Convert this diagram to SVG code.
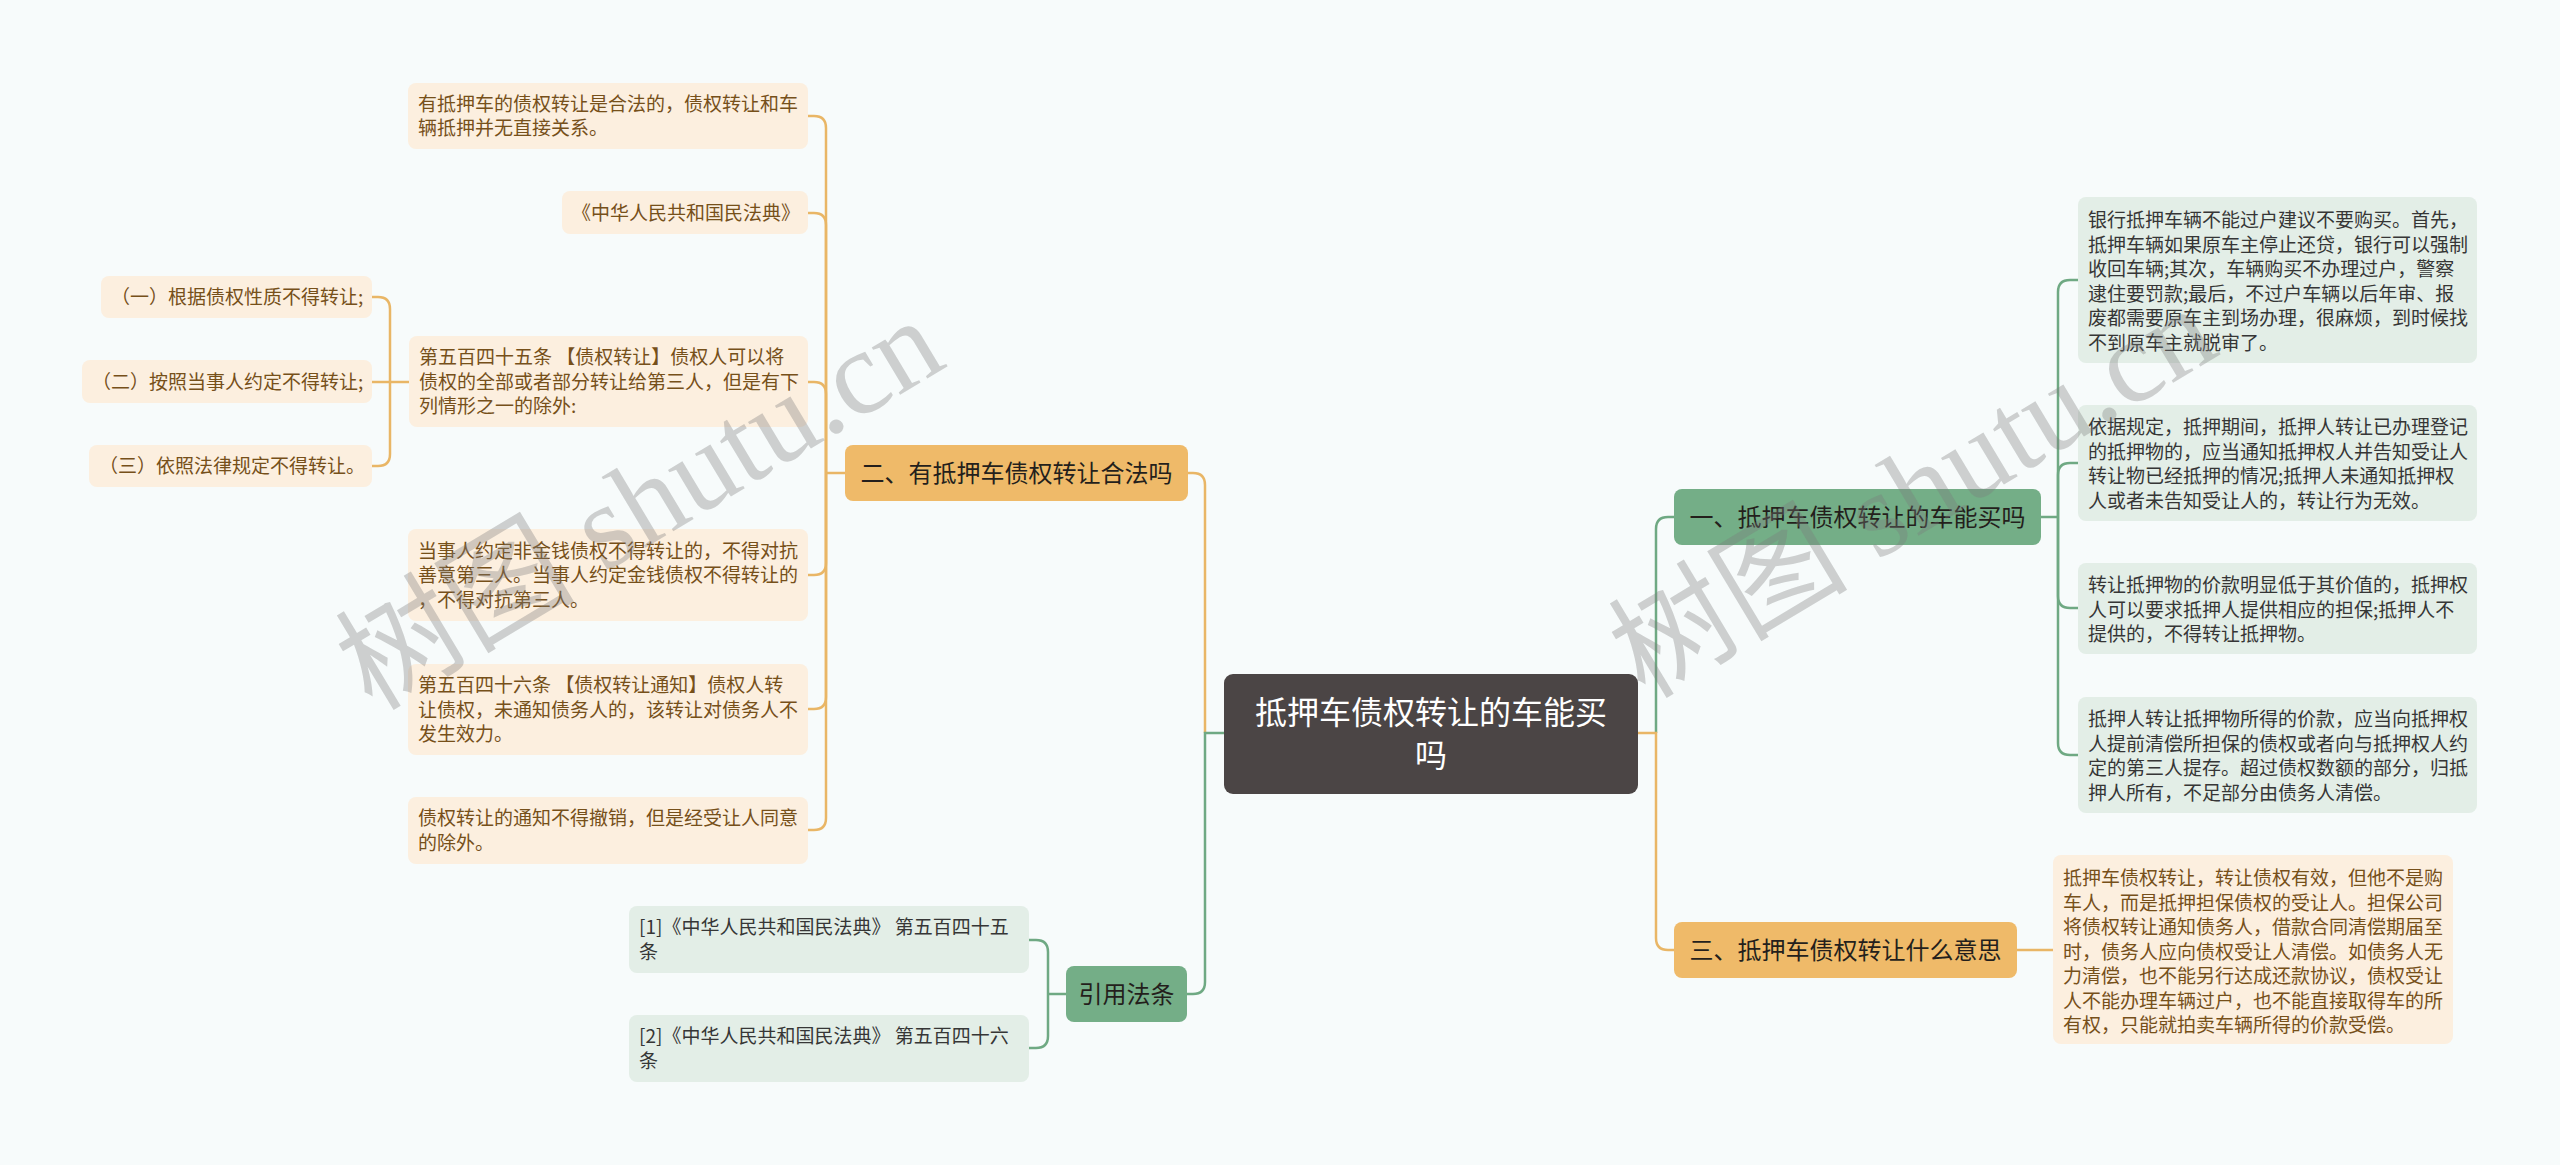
<svg xmlns="http://www.w3.org/2000/svg" width="2560" height="1165" viewBox="0 0 2560 1165">
<style>
text{font-family:"Noto Sans CJK SC","Noto Sans",sans-serif}
.lo{fill:#fcefdf}
.lg{fill:#e3eee7}
.to{font-size:19px;fill:#76501a}
.tg{font-size:19px;fill:#363636}
.bo{fill:#efba69}
.bg{fill:#74ae87}
.tb{font-size:24px;fill:#241f1c;text-anchor:middle}
.co{fill:none;stroke:#e9b666;stroke-width:2.5}
.cg{fill:none;stroke:#6fa983;stroke-width:2.5}
.wm{font-family:"Liberation Serif","Noto Sans CJK SC",serif;font-size:120px;fill:#7a7a7a;fill-opacity:0.34}
</style>
<rect x="0" y="0" width="2560" height="1165" fill="#f7fbfb"/>
<g id="connectors">
<path class="co" d="M1205,733 V485 Q1205,473 1193,473 H1188"/>
<path class="cg" d="M1224,733 H1205 V982 Q1205,994 1193,994 H1187"/>
<path class="cg" d="M1656,733 V529 Q1656,517 1668,517 H1674"/>
<path class="co" d="M1638,733 H1656 V938 Q1656,950 1668,950 H1674"/>
<path class="co" d="M845,473 H826"/>
<path class="co" d="M826,473 V128 Q826,116 814,116 H808"/>
<path class="co" d="M826,473 V225 Q826,213 814,213 H808"/>
<path class="co" d="M826,473 V394 Q826,382 814,382 H808"/>
<path class="co" d="M826,473 V563 Q826,575 814,575 H808"/>
<path class="co" d="M826,473 V697 Q826,709 814,709 H808"/>
<path class="co" d="M826,473 V818 Q826,830 814,830 H808"/>
<path class="co" d="M409,382 H390"/>
<path class="co" d="M390,382 V309 Q390,297 378,297 H372"/>
<path class="co" d="M390,382 H372"/>
<path class="co" d="M390,382 V454 Q390,466 378,466 H372"/>
<path class="cg" d="M1066,994 H1048"/>
<path class="cg" d="M1048,994 V952 Q1048,940 1036,940 H1029"/>
<path class="cg" d="M1048,994 V1036 Q1048,1048 1036,1048 H1029"/>
<path class="cg" d="M2041,517 H2058"/>
<path class="cg" d="M2058,517 V292 Q2058,280 2070,280 H2078"/>
<path class="cg" d="M2058,517 V475 Q2058,463 2070,463 H2078"/>
<path class="cg" d="M2058,517 V596 Q2058,608 2070,608 H2078"/>
<path class="cg" d="M2058,517 V743 Q2058,755 2070,755 H2078"/>
<path class="co" d="M2017,950 H2053"/>
</g>
<g id="root">
<rect x="1224" y="674" width="414" height="120" rx="9" fill="#4b4545"/>
<text x="1431" y="724" font-size="32" fill="#ffffff" text-anchor="middle">抵押车债权转让的车能买</text>
<text x="1431" y="767" font-size="32" fill="#ffffff" text-anchor="middle">吗</text>
</g>
<g id="b2">
<rect class="bo" x="845" y="445" width="343" height="56" rx="8"/>
<text class="tb" x="1016.5" y="482">二、有抵押车债权转让合法吗</text>
</g>
<g id="b1">
<rect class="bg" x="1674" y="489" width="367" height="56" rx="8"/>
<text class="tb" x="1857.5" y="526">一、抵押车债权转让的车能买吗</text>
</g>
<g id="b3">
<rect class="bo" x="1674" y="922" width="343" height="56" rx="8"/>
<text class="tb" x="1845.5" y="959">三、抵押车债权转让什么意思</text>
</g>
<g id="b4">
<rect class="bg" x="1066" y="966" width="121" height="56" rx="8"/>
<text class="tb" x="1126.5" y="1003">引用法条</text>
</g>
<g id="la">
<rect class="lo" x="408" y="83" width="400" height="66" rx="8"/>
<text class="to"><tspan x="418" y="111">有抵押车的债权转让是合法的，债权转让和车</tspan><tspan x="418" y="135">辆抵押并无直接关系。</tspan></text>
</g>
<g id="lb">
<rect class="lo" x="562" y="191" width="246" height="43" rx="8"/>
<text class="to" x="572" y="219.5">《中华人民共和国民法典》</text>
</g>
<g id="lc">
<rect class="lo" x="409" y="336" width="399" height="91" rx="8"/>
<text class="to"><tspan x="419" y="364">第五百四十五条 【债权转让】债权人可以将</tspan><tspan x="419" y="388.5">债权的全部或者部分转让给第三人，但是有下</tspan><tspan x="419" y="413">列情形之一的除外:</tspan></text>
</g>
<g id="lc1">
<rect class="lo" x="101" y="276" width="271" height="42" rx="8"/>
<text class="to" x="111" y="304">（一）根据债权性质不得转让;</text>
</g>
<g id="lc2">
<rect class="lo" x="82" y="360" width="290" height="43" rx="8"/>
<text class="to" x="92" y="388.5">（二）按照当事人约定不得转让;</text>
</g>
<g id="lc3">
<rect class="lo" x="89" y="445" width="283" height="42" rx="8"/>
<text class="to" x="99" y="473">（三）依照法律规定不得转让。</text>
</g>
<g id="ld">
<rect class="lo" x="408" y="529" width="400" height="92" rx="8"/>
<text class="to"><tspan x="418" y="557.5">当事人约定非金钱债权不得转让的，不得对抗</tspan><tspan x="418" y="582">善意第三人。当事人约定金钱债权不得转让的</tspan><tspan x="418" y="606.5">，不得对抗第三人。</tspan></text>
</g>
<g id="le">
<rect class="lo" x="408" y="664" width="400" height="91" rx="8"/>
<text class="to"><tspan x="418" y="692">第五百四十六条 【债权转让通知】债权人转</tspan><tspan x="418" y="716.5">让债权，未通知债务人的，该转让对债务人不</tspan><tspan x="418" y="741">发生效力。</tspan></text>
</g>
<g id="lf">
<rect class="lo" x="408" y="797" width="400" height="67" rx="8"/>
<text class="to"><tspan x="418" y="825">债权转让的通知不得撤销，但是经受让人同意</tspan><tspan x="418" y="850">的除外。</tspan></text>
</g>
<g id="ref1">
<rect class="lg" x="629" y="906" width="400" height="67" rx="8"/>
<text class="tg"><tspan x="639" y="934">[1]《中华人民共和国民法典》 第五百四十五</tspan><tspan x="639" y="958.5">条</tspan></text>
</g>
<g id="ref2">
<rect class="lg" x="629" y="1015" width="400" height="67" rx="8"/>
<text class="tg"><tspan x="639" y="1043">[2]《中华人民共和国民法典》 第五百四十六</tspan><tspan x="639" y="1067.5">条</tspan></text>
</g>
<g id="r1">
<rect class="lg" x="2078" y="197" width="399" height="166" rx="8"/>
<text class="tg"><tspan x="2088" y="227">银行抵押车辆不能过户建议不要购买。首先，</tspan><tspan x="2088" y="251.5">抵押车辆如果原车主停止还贷，银行可以强制</tspan><tspan x="2088" y="276">收回车辆;其次，车辆购买不办理过户，警察</tspan><tspan x="2088" y="300.5">逮住要罚款;最后，不过户车辆以后年审、报</tspan><tspan x="2088" y="325">废都需要原车主到场办理，很麻烦，到时候找</tspan><tspan x="2088" y="349.5">不到原车主就脱审了。</tspan></text>
</g>
<g id="r2">
<rect class="lg" x="2078" y="405" width="399" height="116" rx="8"/>
<text class="tg"><tspan x="2088" y="434">依据规定，抵押期间，抵押人转让已办理登记</tspan><tspan x="2088" y="458.5">的抵押物的，应当通知抵押权人并告知受让人</tspan><tspan x="2088" y="483">转让物已经抵押的情况;抵押人未通知抵押权</tspan><tspan x="2088" y="507.5">人或者未告知受让人的，转让行为无效。</tspan></text>
</g>
<g id="r3">
<rect class="lg" x="2078" y="563" width="399" height="91" rx="8"/>
<text class="tg"><tspan x="2088" y="592">转让抵押物的价款明显低于其价值的，抵押权</tspan><tspan x="2088" y="616.5">人可以要求抵押人提供相应的担保;抵押人不</tspan><tspan x="2088" y="641">提供的，不得转让抵押物。</tspan></text>
</g>
<g id="r4">
<rect class="lg" x="2078" y="697" width="399" height="116" rx="8"/>
<text class="tg"><tspan x="2088" y="726">抵押人转让抵押物所得的价款，应当向抵押权</tspan><tspan x="2088" y="750.5">人提前清偿所担保的债权或者向与抵押权人约</tspan><tspan x="2088" y="775">定的第三人提存。超过债权数额的部分，归抵</tspan><tspan x="2088" y="799.5">押人所有，不足部分由债务人清偿。</tspan></text>
</g>
<g id="r5">
<rect class="lo" x="2053" y="855" width="400" height="189" rx="8"/>
<text class="to"><tspan x="2063" y="885">抵押车债权转让，转让债权有效，但他不是购</tspan><tspan x="2063" y="909.5">车人，而是抵押担保债权的受让人。担保公司</tspan><tspan x="2063" y="934">将债权转让通知债务人，借款合同清偿期届至</tspan><tspan x="2063" y="958.5">时，债务人应向债权受让人清偿。如债务人无</tspan><tspan x="2063" y="983">力清偿，也不能另行达成还款协议，债权受让</tspan><tspan x="2063" y="1007.5">人不能办理车辆过户，也不能直接取得车的所</tspan><tspan x="2063" y="1032">有权，只能就拍卖车辆所得的价款受偿。</tspan></text>
</g>
<g id="watermark">
<text class="wm" transform="translate(372,712) rotate(-31)">树图 shutu.cn</text>
<text class="wm" transform="translate(1645,700) rotate(-31)">树图 shutu.cn</text>
</g>
</svg>
